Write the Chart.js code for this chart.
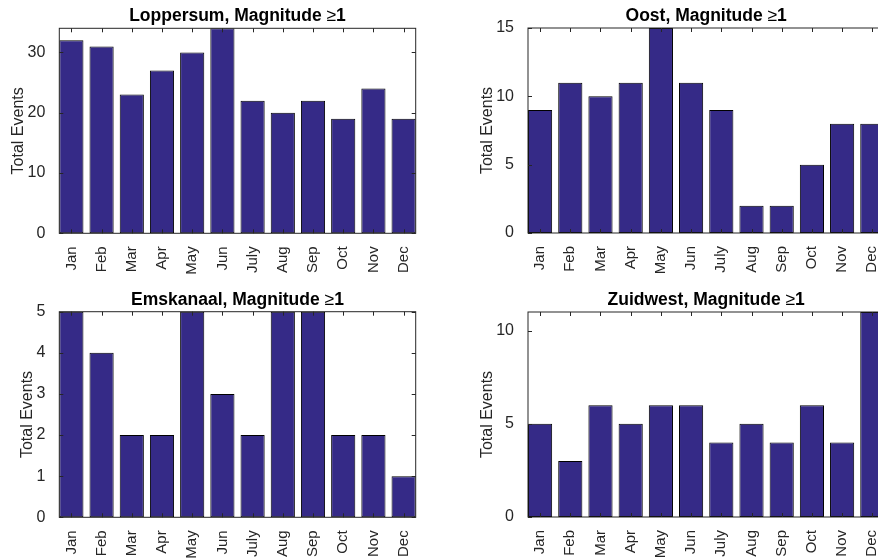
<!DOCTYPE html>
<html>
<head>
<meta charset="utf-8">
<script src="https://cdn.jsdelivr.net/npm/chart.js@4.4.1/dist/chart.umd.min.js"></script>
<style>
  html, body { margin: 0; padding: 0; background: #fff; overflow: hidden; width: 878px; height: 558px; }
  .panel { position: absolute; }
</style>
</head>
<body>
<div class="panel" style="left:0;top:0"><canvas id="c1" width="475" height="280"></canvas></div>
<div class="panel" style="left:438px;top:0"><canvas id="c2" width="536" height="280"></canvas></div>
<div class="panel" style="left:0;top:280px"><canvas id="c3" width="475" height="278"></canvas></div>
<div class="panel" style="left:438px;top:280px"><canvas id="c4" width="536" height="278"></canvas></div>
<script>
// monthly event counts per region (magnitude >= 1)
const months = ["Jan", "Feb", "Mar", "Apr", "May", "Jun", "July", "Aug", "Sep", "Oct", "Nov", "Dec"];
const loppersum = [32, 31, 23, 27, 30, 34, 22, 20, 22, 19, 24, 19];
const oost = [9, 11, 10, 11, 15, 11, 9, 2, 2, 5, 8, 8];
const emskanaal = [5, 4, 2, 2, 5, 3, 2, 5, 5, 2, 2, 1];
const zuidwest = [5, 3, 6, 5, 6, 6, 4, 5, 4, 6, 4, 11];
const regions = ["Loppersum", "Oost", "Emskanaal", "Zuidwest"];
const yMax = [34, 15, 5, 11];
const yStep = [10, 5, 1, 5];

const textColor = "#262626";
const fontFam = '"Liberation Sans", Arial, sans-serif';
Chart.defaults.font.family = fontFam;

// draws the title over the plot, plus the box and inward tick marks
const matlabAxes = {
    id: "matlabAxes",
    afterDatasetsDraw(chart, args, opts) {
        const { ctx, chartArea: a, scales } = chart;
        ctx.save();
        ctx.strokeStyle = textColor;
        ctx.lineWidth = 1;
        ctx.strokeRect(a.left, a.top, a.right - a.left, a.bottom - a.top);
        ctx.beginPath();
        scales.x.ticks.forEach(t => {
            const px = Math.round(scales.x.getPixelForValue(t.value)) + 0.5;
            ctx.moveTo(px, a.top); ctx.lineTo(px, a.top + 4);
            ctx.moveTo(px, a.bottom); ctx.lineTo(px, a.bottom - 4);
        });
        scales.y.ticks.forEach(t => {
            const py = Math.round(scales.y.getPixelForValue(t.value)) + 0.5;
            ctx.moveTo(a.left, py); ctx.lineTo(a.left + 4, py);
            ctx.moveTo(a.right, py); ctx.lineTo(a.right - 4, py);
        });
        ctx.stroke();

        // title: bold text with a plain-weight >= sign, like the TeX title
        const parts = [
            [opts.text + ", Magnitude ", "bold 17.5px " + fontFam],
            ["\u2265", "17.5px " + fontFam],
            ["1", "bold 17.5px " + fontFam]
        ];
        let total = 0;
        parts.forEach(p => { ctx.font = p[1]; total += ctx.measureText(p[0]).width; });
        let x = (a.left + a.right) / 2 - total / 2;
        ctx.fillStyle = "#000";
        ctx.textAlign = "left";
        ctx.textBaseline = "alphabetic";
        parts.forEach(p => {
            ctx.font = p[1];
            ctx.fillText(p[0], x, a.top - 7);
            x += ctx.measureText(p[0]).width;
        });
        ctx.restore();
    }
};

function makePanel(id, i, values, yAxisW, xAxisH, padTop, padRight, labelPad) {
    new Chart(document.getElementById(id), {
        type: "bar",
        data: {
            datasets: [{
                data: values.map((v, k) => ({ x: k + 1, y: v })),
                backgroundColor: "#352a87",
                borderColor: "#000",
                borderWidth: 1,
                borderSkipped: false,
                barPercentage: 0.8,
                categoryPercentage: 1
            }]
        },
        options: {
            responsive: false,
            animation: false,
            devicePixelRatio: 1,
            layout: { padding: { top: padTop, right: padRight, left: 0, bottom: 0 } },
            plugins: {
                legend: { display: false },
                tooltip: { enabled: false },
                matlabAxes: { text: regions[i] }
            },
            scales: {
                x: {
                    type: "linear",
                    min: 0.6,
                    max: 12.4,
                    offset: false,
                    grid: { display: false, offset: false },
                    border: { display: false },
                    ticks: {
                        stepSize: 1,
                        includeBounds: false,
                        autoSkip: false,
                        maxRotation: 90,
                        minRotation: 90,
                        padding: 5,
                        color: textColor,
                        font: { size: 15 },
                        callback: v => months[Math.round(v) - 1]
                    },
                    afterFit: s => { s.height = xAxisH; }
                },
                y: {
                    min: 0,
                    max: yMax[i],
                    grid: { display: false },
                    border: { display: false },
                    ticks: {
                        stepSize: yStep[i],
                        includeBounds: false,
                        padding: 6,
                        color: textColor,
                        font: { size: 16 }
                    },
                    title: {
                        display: true,
                        text: "Total Events",
                        color: textColor,
                        font: { size: 16 },
                        padding: { top: labelPad, bottom: 0 }
                    },
                    afterFit: s => { s.width = yAxisW; }
                }
            }
        },
        plugins: [matlabAxes]
    });
}

makePanel("c1", 0, loppersum, 59.3, 46.7, 28.3, 59.3, 8.5);
makePanel("c2", 1, oost, 90, 47, 28, 89.6, 40);
makePanel("c3", 2, emskanaal, 59.3, 40.7, 31.7, 59.3, 17.7);
makePanel("c4", 3, zuidwest, 90, 41, 32, 89.6, 40);
</script>
</body>
</html>
